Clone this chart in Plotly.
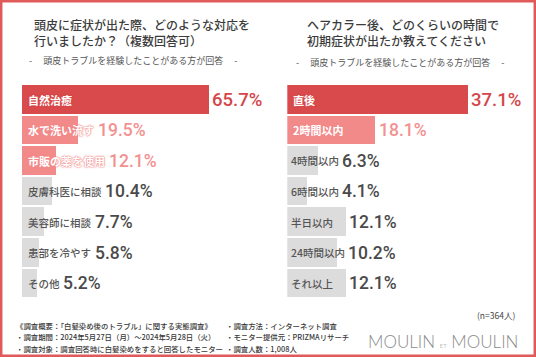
import plotly.graph_objects as go

# ---------------- data ----------------
left_title = "頭皮に症状が出た際、どのような対応を<br>行いましたか？（複数回答可）"
right_title = "ヘアカラー後、どのくらいの時間で<br>初期症状が出たか教えてください"
subtitle = "-　 頭皮トラブルを経験したことがある方が回答　 -"

left_labels = ["自然治癒", "水で洗い流す", "市販の薬を使用", "皮膚科医に相談", "美容師に相談", "患部を冷やす", "その他"]
left_values = [65.7, 19.5, 12.1, 10.4, 7.7, 5.8, 5.2]

right_labels = ["直後", "2時間以内", "4時間以内", "6時間以内", "半日以内", "24時間以内", "それ以上"]
right_values = [37.1, 18.1, 6.3, 4.1, 12.1, 10.2, 12.1]

n_note = "(n=364人)"
footer_col1 = [
    "《調査概要：「白髪染め後のトラブル」に関する実態調査》",
    "・調査期間：2024年5月27日（月）～2024年5月28日（火）",
    "・調査対象：調査回答時に白髪染めをすると回答したモニター",
]
footer_col2 = [
    "・調査方法：インターネット調査",
    "・モニター提供元：PRIZMAリサーチ",
    "・調査人数：1,008人",
]

# ---------------- style ----------------
W, H = 536, 357
DARK = "#d84a4b"
PINK = "#f28a8a"
GRAY = "#dcdcdc"
DARK_TXT = "#d5454a"
PINK_TXT = "#f39191"
GRAY_TXT = "#4a4a4a"
LABEL_GRAY = "#555555"
CJK = "Noto Sans CJK JP"
NUM = "Roboto"

# pixel geometry of the two panels
L_X0, L_X1, L_SCALE = 22, 262, 2.85
R_X0, R_X1, R_SCALE = 287.3, 528, 4.88
Y_TOP, Y_BOT = 84.3, 298.5


def px(x):
    return x / W


def py(y):
    return 1 - y / H


def text_w(s, size):
    w = 0
    for c in s:
        w += size if ord(c) > 0x2E80 else 0.56 * size
    return w


colors = [DARK, PINK, PINK, GRAY, GRAY, GRAY, GRAY]
vcolors = [DARK_TXT, PINK_TXT, PINK_TXT, GRAY_TXT, GRAY_TXT, GRAY_TXT, GRAY_TXT]
r_colors = [DARK, PINK, GRAY, GRAY, GRAY, GRAY, GRAY]
r_vcolors = [DARK_TXT, PINK_TXT, GRAY_TXT, GRAY_TXT, GRAY_TXT, GRAY_TXT, GRAY_TXT]

idx = list(range(7))
fig = go.Figure()
fig.add_trace(go.Bar(x=left_values, y=idx, orientation="h", width=0.94,
                     marker=dict(color=colors, line=dict(width=0)),
                     xaxis="x", yaxis="y", hoverinfo="skip"))
fig.add_trace(go.Bar(x=right_values, y=idx, orientation="h", width=0.94,
                     marker=dict(color=r_colors, line=dict(width=0)),
                     xaxis="x2", yaxis="y2", hoverinfo="skip"))

ann = []


def panel(labels, values, bcols, vcols, xref, yref, scale, gray_pad):
    for i, (lab, v) in enumerate(zip(labels, values)):
        colored = bcols[i] != GRAY
        size = 11 if colored else 10.5
        pad = 4 if colored else gray_pad
        f = dict(family=CJK, size=size,
                 color="white" if colored else LABEL_GRAY,
                 weight=700 if colored else 500)
        if colored:
            f["shadow"] = f"0 0 1px {bcols[i]}, 0 0 1.5px {bcols[i]}, 0 0 2px {bcols[i]}"
        ann.append(dict(x=0, y=i, xref=xref, yref=yref, text=lab, showarrow=False,
                        xanchor="left", yanchor="middle", xshift=pad, font=f))
        lab_end = (pad + text_w(lab, size)) / scale
        label_limited = lab_end > v
        vx = lab_end if label_limited else v
        ann.append(dict(x=vx, y=i, xref=xref, yref=yref, text=f"{v:.1f}%", showarrow=False,
                        xanchor="left", yanchor="middle", xshift=3.5 if label_limited else 1,
                        font=dict(family=NUM, size=18.5 if i == 0 else 17.5,
                                  color=vcols[i], weight=500)))


panel(left_labels, left_values, colors, vcolors, "x", "y", L_SCALE, 4)
panel(right_labels, right_values, r_colors, r_vcolors, "x2", "y2", R_SCALE, 1.5)

# titles
ann.append(dict(x=px(32), y=py(32), xref="paper", yref="paper", text=left_title,
                showarrow=False, xanchor="left", yanchor="middle", align="left",
                font=dict(family=CJK, size=12, color="#3c3c3c", weight=500)))
ann.append(dict(x=px(305), y=py(32.5), xref="paper", yref="paper", text=right_title,
                showarrow=False, xanchor="left", yanchor="middle", align="left",
                font=dict(family=CJK, size=12, color="#3c3c3c", weight=500)))
ann.append(dict(x=px(132.5), y=py(60), xref="paper", yref="paper", text=subtitle,
                showarrow=False, xanchor="center", yanchor="middle",
                font=dict(family=CJK, size=9, color="#555555")))
ann.append(dict(x=px(399.5), y=py(62), xref="paper", yref="paper", text=subtitle,
                showarrow=False, xanchor="center", yanchor="middle",
                font=dict(family=CJK, size=9, color="#555555")))

# footer
ann.append(dict(x=px(517), y=py(315), xref="paper", yref="paper", text=n_note,
                showarrow=False, xanchor="right", yanchor="middle",
                font=dict(family=CJK, size=8.5, color="#444444")))
fy = [325, 336.5, 348]
for t, y in zip(footer_col1, fy):
    ann.append(dict(x=px(14), y=py(y), xref="paper", yref="paper", text=t,
                    showarrow=False, xanchor="left", yanchor="middle",
                    font=dict(family=CJK, size=7.4, color="#3a3a3a", weight=500)))
for t, y in zip(footer_col2, fy):
    ann.append(dict(x=px(224), y=py(y), xref="paper", yref="paper", text=t,
                    showarrow=False, xanchor="left", yanchor="middle",
                    font=dict(family=CJK, size=7.4, color="#3a3a3a", weight=500)))
ann.append(dict(x=px(443), y=py(341.5), xref="paper", yref="paper",
                text="MOULIN <span style='font-size:6px'>ET</span> MOULIN",
                showarrow=False, xanchor="center", yanchor="middle",
                font=dict(family="Lato, Open Sans", size=17, color="#8a8a8a", weight=300)))

fig.update_layout(
    width=W, height=H,
    margin=dict(l=0, r=0, t=0, b=0),
    paper_bgcolor="white", plot_bgcolor="white",
    showlegend=False, bargap=0,
    xaxis=dict(domain=[px(L_X0), px(L_X1)], range=[0, (L_X1 - L_X0) / L_SCALE],
               visible=False, fixedrange=True),
    yaxis=dict(domain=[py(Y_BOT), py(Y_TOP)], range=[6.5, -0.5], visible=False, fixedrange=True),
    xaxis2=dict(domain=[px(R_X0), px(R_X1)], range=[0, (R_X1 - R_X0) / R_SCALE],
                visible=False, fixedrange=True),
    yaxis2=dict(domain=[py(Y_BOT), py(Y_TOP)], range=[6.5, -0.5], visible=False,
                fixedrange=True, anchor="x2"),
    annotations=ann,
    shapes=[dict(type="rect", xref="paper", yref="paper", x0=px(1.2), x1=px(W - 1.2),
                 y0=py(H - 1.2), y1=py(1.2), line=dict(color="#e05a5a", width=2.5),
                 fillcolor="rgba(0,0,0,0)")],
)

fig.write_html("out.html", config={"displayModeBar": False},
               post_script="document.body.style.margin='0';document.body.style.overflow='hidden';")
